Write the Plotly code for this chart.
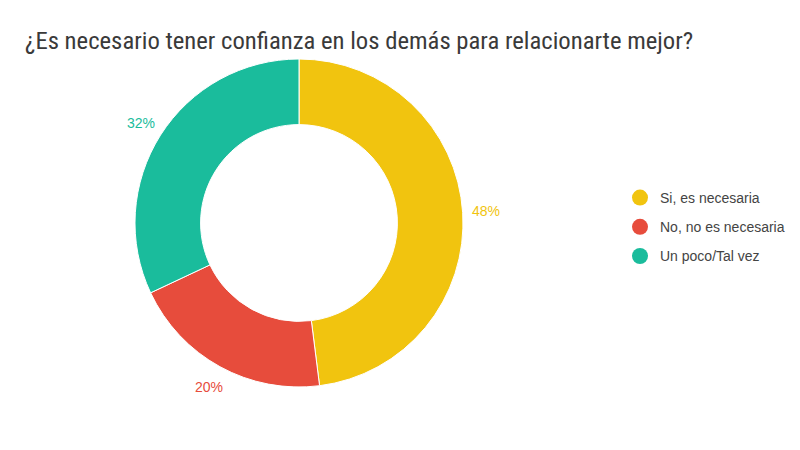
import math
import plotly.graph_objects as go

title = "¿Es necesario tener confianza en los demás para relacionarte mejor?"
categories = ["Si, es necesaria", "No, no es necesaria", "Un poco/Tal vez"]
values = [48, 20, 32]
colors = ["#f1c40f", "#e74c3c", "#1abc9c"]

W, H = 800, 450
dom_x = [135 / W, 463 / W]
dom_y = [(H - 387) / H, (H - 59) / H]

fig = go.Figure()
fig.add_trace(go.Pie(
    labels=categories, values=values, hole=0.6, sort=False,
    direction="clockwise", rotation=0,
    marker=dict(colors=colors, line=dict(color="white", width=1)),
    textinfo="none", showlegend=False, hoverinfo="label+percent",
    domain=dict(x=dom_x, y=dom_y),
))

# outside percentage labels, placed along each slice's mid-angle
cx = (dom_x[0] + dom_x[1]) / 2 * W
cy = (1 - (dom_y[0] + dom_y[1]) / 2) * H
r_lab = 187
total = sum(values)
cum = 0
for v, c in zip(values, colors):
    mid = (cum + v / 2) / total * 2 * math.pi
    cum += v
    px = cx + r_lab * math.sin(mid)
    py = cy - r_lab * math.cos(mid)
    fig.add_annotation(
        x=px / W, y=1 - py / H, xref="paper", yref="paper",
        text=f"{round(v / total * 100)}%", showarrow=False,
        font=dict(size=14, color=c, family="Liberation Sans, Arial"),
        xanchor="center", yanchor="middle",
    )

# legend with circle markers
for i, (name, c) in enumerate(zip(categories, colors)):
    fig.add_trace(go.Scatter(
        x=[None], y=[None], mode="markers", name=name,
        marker=dict(size=16, color=c, symbol="circle"),
        legendgroup=f"g{i}", showlegend=True,
    ))

fig.update_layout(
    width=W, height=H,
    margin=dict(l=0, r=0, t=0, b=0),
    paper_bgcolor="white", plot_bgcolor="white",
    title=dict(text=title, x=25 / W, xanchor="left", y=1 - 40 / H, yanchor="middle",
               xref="container", yref="container",
               font=dict(size=24.7, color="#3a3a3a", family="Liberation Sans Narrow, Roboto Condensed, Liberation Sans")),
    legend=dict(x=620 / W, y=1 - 182 / H, xanchor="left", yanchor="top",
                font=dict(size=14, color="#444444", family="Liberation Sans, Arial"),
                tracegroupgap=8, itemsizing="trace", bgcolor="rgba(0,0,0,0)"),
    xaxis=dict(visible=False), yaxis=dict(visible=False),
)

fig.write_html("out.html")
